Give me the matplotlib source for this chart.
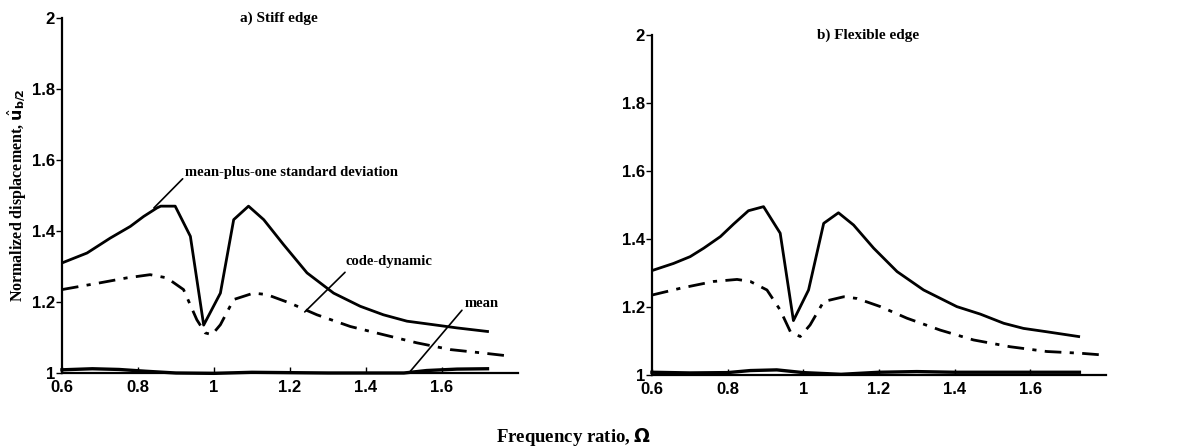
import matplotlib
matplotlib.use("Agg")
import matplotlib.pyplot as plt
import numpy as np

# ---- data ----
a_sd_x = [0.6, 0.666, 0.727, 0.78, 0.815, 0.85, 0.86, 0.898, 0.938, 0.973, 1.017, 1.052, 1.091,
          1.131, 1.183, 1.245, 1.315, 1.385, 1.446, 1.508, 1.578, 1.64, 1.72]
a_sd_y = [1.31, 1.338, 1.38, 1.413, 1.441, 1.465, 1.47, 1.47, 1.385, 1.135, 1.225, 1.432, 1.47,
          1.432, 1.362, 1.282, 1.225, 1.188, 1.164, 1.146, 1.136, 1.127, 1.117]
a_cd_x = [0.6, 0.70, 0.771, 0.832, 0.876, 0.92, 0.955, 0.977, 0.995, 1.017, 1.052, 1.104, 1.139,
          1.2, 1.271, 1.359, 1.446, 1.534, 1.622, 1.71, 1.784]
a_cd_y = [1.235, 1.254, 1.268, 1.277, 1.268, 1.235, 1.15, 1.113, 1.108, 1.136, 1.207, 1.225, 1.221,
          1.197, 1.164, 1.131, 1.108, 1.085, 1.066, 1.056, 1.047]
a_mn_x = [0.6, 0.68, 0.75, 0.82, 0.9, 1.0, 1.1, 1.2, 1.3, 1.4, 1.5, 1.56, 1.64, 1.72]
a_mn_y = [1.009, 1.012, 1.01, 1.005, 1.0, 0.999, 1.002, 1.001, 1.0, 1.0, 1.0, 1.007, 1.011, 1.012]

b_sd_x = [0.6, 0.657, 0.701, 0.737, 0.781, 0.816, 0.855, 0.895, 0.939, 0.974, 1.014, 1.054, 1.093,
          1.133, 1.186, 1.248, 1.318, 1.406, 1.468, 1.53, 1.582, 1.644, 1.728]
b_sd_y = [1.307, 1.328, 1.348, 1.373, 1.407, 1.444, 1.483, 1.495, 1.417, 1.16, 1.25, 1.446, 1.477,
          1.441, 1.373, 1.304, 1.25, 1.201, 1.179, 1.152, 1.137, 1.127, 1.113]
b_cd_x = [0.6, 0.675, 0.763, 0.825, 0.86, 0.904, 0.939, 0.966, 0.992, 1.018, 1.054, 1.107, 1.142,
          1.204, 1.274, 1.362, 1.45, 1.547, 1.644, 1.732, 1.789]
b_cd_y = [1.235, 1.255, 1.275, 1.281, 1.275, 1.25, 1.191, 1.127, 1.113, 1.147, 1.216, 1.23, 1.225,
          1.201, 1.167, 1.132, 1.103, 1.083, 1.069, 1.064, 1.059]
b_mn_x = [0.6, 0.7, 0.8, 0.86, 0.93, 1.0, 1.1, 1.2, 1.3, 1.4, 1.5, 1.6, 1.73]
b_mn_y = [1.008, 1.006, 1.007, 1.013, 1.015, 1.007, 1.002, 1.008, 1.01, 1.008, 1.008, 1.008, 1.008]

x_ticks = [0.6, 0.8, 1.0, 1.2, 1.4, 1.6]
x_tick_labels = ["0.6", "0.8", "1", "1.2", "1.4", "1.6"]
y_ticks = [1.0, 1.2, 1.4, 1.6, 1.8, 2.0]
y_tick_labels = ["1", "1.2", "1.4", "1.6", "1.8", "2"]

SERIF = ["Liberation Serif", "DejaVu Serif"]
SANS = ["Liberation Sans Narrow", "Liberation Sans", "DejaVu Sans"]

fig = plt.figure(figsize=(11.8, 4.48), dpi=100)
axA = fig.add_axes([0.0525, 0.1674, 0.3864, 0.7924])
axB = fig.add_axes([0.5525, 0.1630, 0.3847, 0.7590])


def style(ax):
    ax.set_xlim(0.6, 1.8)
    ax.set_ylim(1.0, 2.0)
    for s in ("top", "right"):
        ax.spines[s].set_visible(False)
    for s in ("left", "bottom"):
        ax.spines[s].set_linewidth(1.6)
    ax.set_xticks(x_ticks)
    ax.set_xticklabels(x_tick_labels)
    ax.set_yticks(y_ticks)
    ax.set_yticklabels(y_tick_labels)
    ax.tick_params(axis="x", direction="in", length=4, width=1, pad=5)
    ax.tick_params(axis="y", direction="out", length=4, width=1, pad=1)
    for lab in ax.get_xticklabels() + ax.get_yticklabels():
        lab.set_family(SANS)
        lab.set_fontweight("bold")
        lab.set_fontsize(12)


for ax, sx, sy, cx, cy, mx, my in ((axA, a_sd_x, a_sd_y, a_cd_x, a_cd_y, a_mn_x, a_mn_y),
                                    (axB, b_sd_x, b_sd_y, b_cd_x, b_cd_y, b_mn_x, b_mn_y)):
    style(ax)
    ax.plot(sx, sy, color="black", lw=2.0, solid_joinstyle="round")
    ax.plot(cx, cy, color="black", lw=2.0, linestyle=(0, (6, 3, 1.5, 3)))
    ax.plot(mx, my, color="black", lw=2.4, clip_on=False)

axA.text(1.171, 2.0, "a) Stiff edge", family=SERIF, fontsize=11, fontweight="bold",
         ha="center", va="center")
axB.text(1.171, 2.0, "b) Flexible edge", family=SERIF, fontsize=11, fontweight="bold",
         ha="center", va="center")

# annotations in panel a
axA.annotate("mean-plus-one standard deviation", xy=(0.842, 1.465), xytext=(0.925, 1.566),
             family=SERIF, fontsize=10.5, fontweight="bold", ha="left", va="center",
             arrowprops=dict(arrowstyle="-", color="black", lw=1.2, shrinkA=0, shrinkB=0,
                             relpos=(0, 0.2)))
axA.annotate("code-dynamic", xy=(1.239, 1.172), xytext=(1.345, 1.313),
             family=SERIF, fontsize=10.5, fontweight="bold", ha="left", va="center",
             arrowprops=dict(arrowstyle="-", color="black", lw=1.2, shrinkA=0, shrinkB=0,
                             relpos=(0, -0.3)))
axA.annotate("mean", xy=(1.513, 1.0), xytext=(1.66, 1.197),
             family=SERIF, fontsize=10.5, fontweight="bold", ha="left", va="center",
             arrowprops=dict(arrowstyle="-", color="black", lw=1.2, shrinkA=0, shrinkB=0,
                             relpos=(0, 0.2)))

axA.set_ylabel(r"Normalized displacement, $\hat{\mathbf{u}}_{\mathbf{b/2}}$",
               family=SERIF, fontsize=11.5, fontweight="bold", labelpad=2)

fig.text(0.486, 0.025, r"Frequency ratio, $\mathbf{\Omega}$", family=SERIF, fontsize=13.5,
         fontweight="bold", ha="center", va="center")

fig.savefig("out.png", dpi=100)
